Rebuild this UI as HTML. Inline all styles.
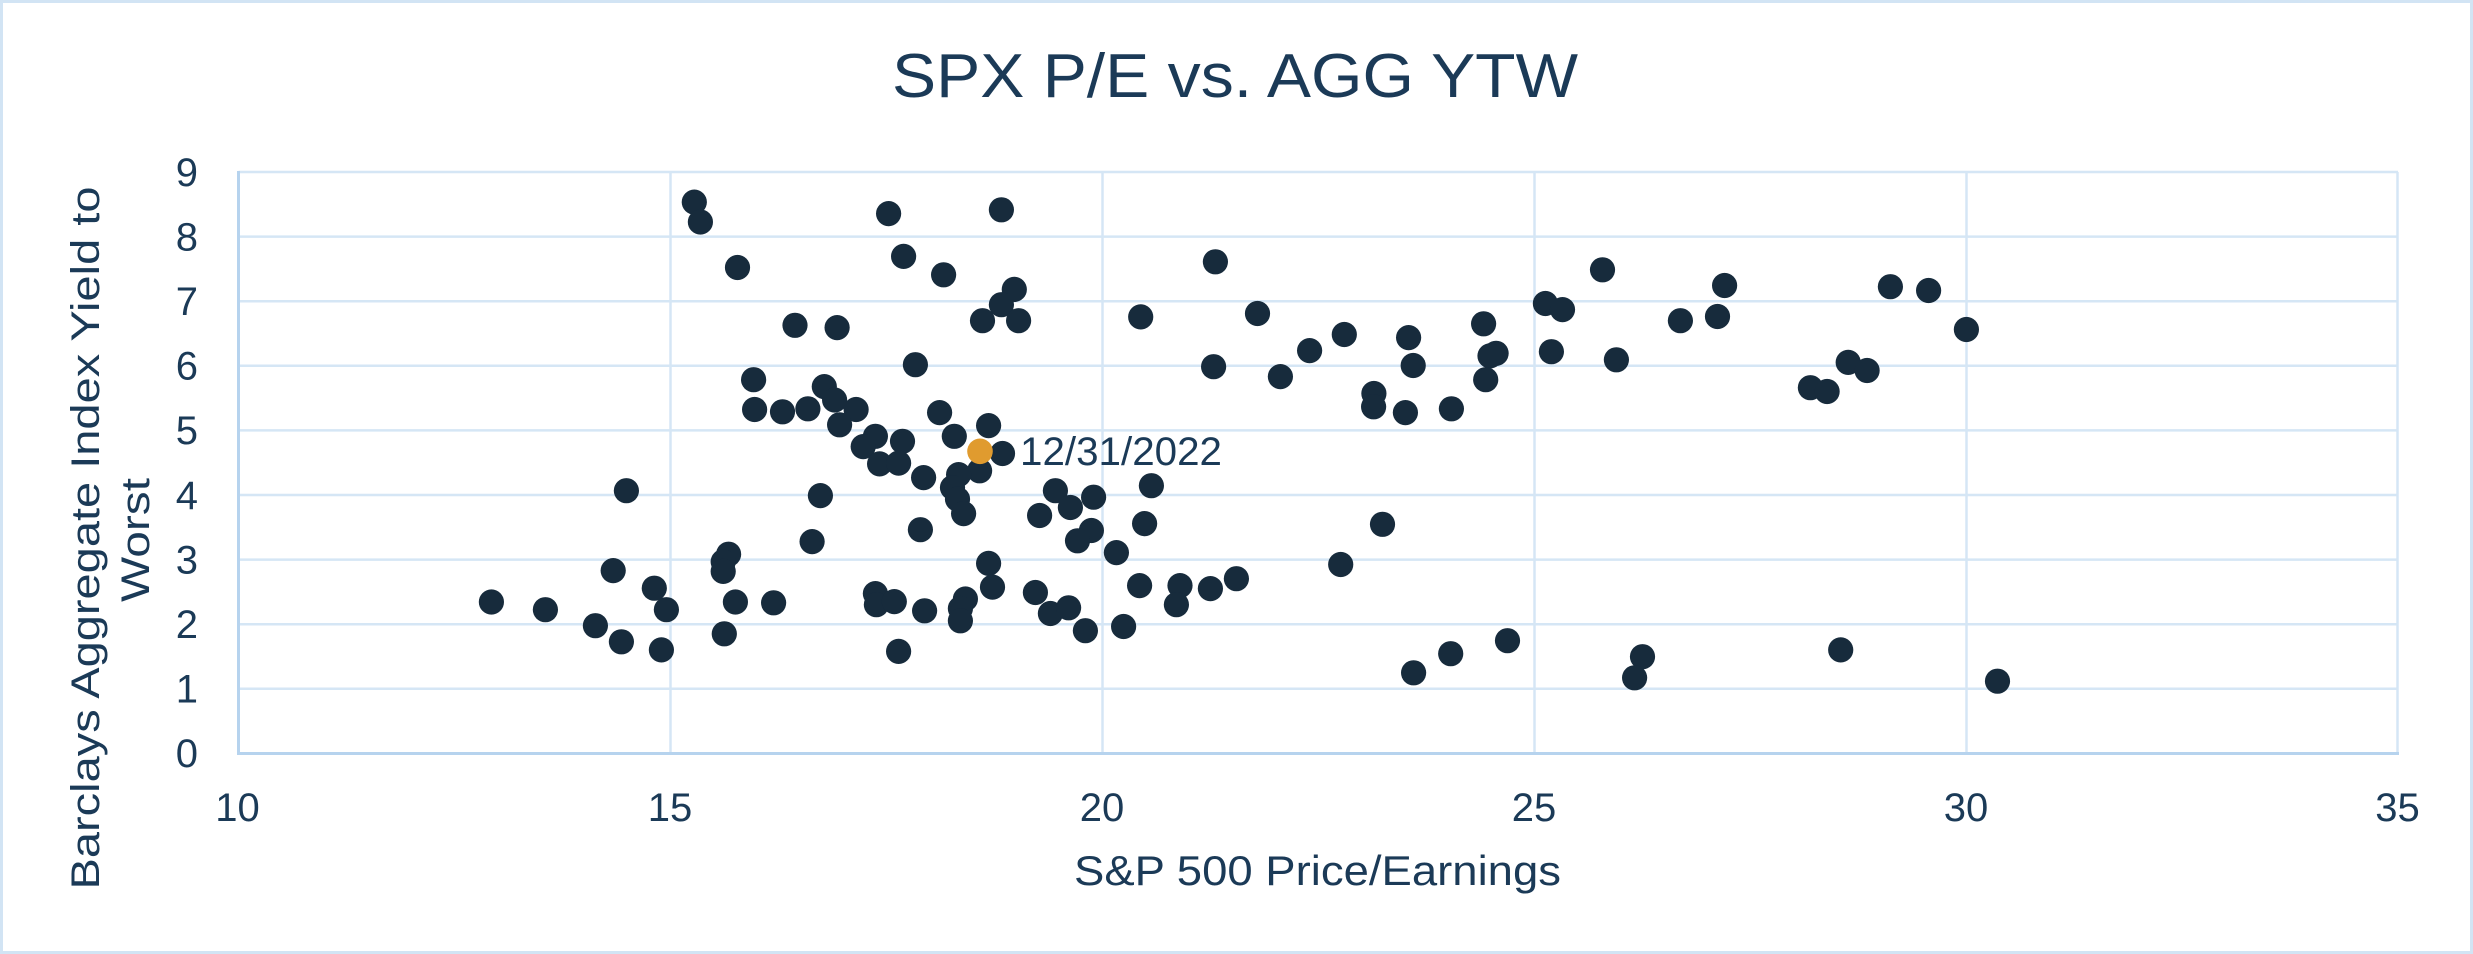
<!DOCTYPE html>
<html>
<head>
<meta charset="utf-8">
<style>
html,body{margin:0;padding:0;background:#fff;}
body{width:2473px;height:954px;overflow:hidden;}
svg{display:block;}
text{font-family:"Liberation Sans",Arial,sans-serif;fill:#1b3a57;}
</style>
</head>
<body>
<svg width="2473" height="954" viewBox="0 0 2473 954" xmlns="http://www.w3.org/2000/svg">
<rect x="0" y="0" width="2473" height="954" fill="#ffffff"/>
<rect x="1.5" y="1.5" width="2470" height="951" fill="none" stroke="#d2e4f4" stroke-width="3"/>

<text x="1235" y="97" font-size="62" text-anchor="middle" textLength="686" lengthAdjust="spacingAndGlyphs">SPX P/E vs. AGG YTW</text>

<g stroke="#d5e6f5" stroke-width="2.5">
<line x1="238.5" y1="172" x2="2398" y2="172"/>
<line x1="238.5" y1="236.6" x2="2398" y2="236.6"/>
<line x1="238.5" y1="301.2" x2="2398" y2="301.2"/>
<line x1="238.5" y1="365.8" x2="2398" y2="365.8"/>
<line x1="238.5" y1="430.4" x2="2398" y2="430.4"/>
<line x1="238.5" y1="495" x2="2398" y2="495"/>
<line x1="238.5" y1="559.6" x2="2398" y2="559.6"/>
<line x1="238.5" y1="624.2" x2="2398" y2="624.2"/>
<line x1="238.5" y1="688.8" x2="2398" y2="688.8"/>
<line x1="670.5" y1="172" x2="670.5" y2="753.5"/>
<line x1="1102.5" y1="172" x2="1102.5" y2="753.5"/>
<line x1="1534.5" y1="172" x2="1534.5" y2="753.5"/>
<line x1="1966.5" y1="172" x2="1966.5" y2="753.5"/>
<line x1="2397.5" y1="172" x2="2397.5" y2="753.5"/>
</g>
<g stroke="#b6d3ee" stroke-width="3">
<line x1="238.5" y1="171" x2="238.5" y2="754.5"/>
<line x1="237" y1="753.5" x2="2399" y2="753.5"/>
</g>

<g font-size="40" text-anchor="end">
<text x="198" y="767">0</text>
<text x="198" y="702.6">1</text>
<text x="198" y="638">2</text>
<text x="198" y="573.4">3</text>
<text x="198" y="508.8">4</text>
<text x="198" y="444.2">5</text>
<text x="198" y="379.6">6</text>
<text x="198" y="315">7</text>
<text x="198" y="250.4">8</text>
<text x="198" y="185.8">9</text>
</g>
<g font-size="40" text-anchor="middle">
<text x="237.5" y="821">10</text>
<text x="670" y="821">15</text>
<text x="1102" y="821">20</text>
<text x="1534" y="821">25</text>
<text x="1966" y="821">30</text>
<text x="2397.5" y="821">35</text>
</g>

<text x="1317.5" y="885" font-size="42" text-anchor="middle" textLength="487" lengthAdjust="spacingAndGlyphs">S&amp;P 500 Price/Earnings</text>

<text transform="translate(99,538) rotate(-90)" font-size="40" text-anchor="middle" textLength="703" lengthAdjust="spacingAndGlyphs">Barclays Aggregate Index Yield to</text>
<text transform="translate(149,540) rotate(-90)" font-size="40" text-anchor="middle" textLength="124" lengthAdjust="spacingAndGlyphs">Worst</text>

<g fill="#172b3c">
<circle cx="694.3" cy="202.1" r="12.6"/>
<circle cx="700.4" cy="222.0" r="12.6"/>
<circle cx="737.5" cy="267.5" r="12.6"/>
<circle cx="753.6" cy="379.7" r="12.6"/>
<circle cx="754.6" cy="409.5" r="12.6"/>
<circle cx="782.5" cy="411.8" r="12.6"/>
<circle cx="626.4" cy="490.7" r="12.6"/>
<circle cx="728.6" cy="554.2" r="12.6"/>
<circle cx="723.2" cy="561.8" r="12.6"/>
<circle cx="723.2" cy="571.4" r="12.6"/>
<circle cx="613.2" cy="570.6" r="12.6"/>
<circle cx="654.3" cy="588.2" r="12.6"/>
<circle cx="491.4" cy="602.0" r="12.6"/>
<circle cx="545.4" cy="609.7" r="12.6"/>
<circle cx="666.4" cy="609.7" r="12.6"/>
<circle cx="735.4" cy="602.0" r="12.6"/>
<circle cx="773.6" cy="602.8" r="12.6"/>
<circle cx="595.4" cy="625.7" r="12.6"/>
<circle cx="621.4" cy="641.8" r="12.6"/>
<circle cx="661.4" cy="649.9" r="12.6"/>
<circle cx="724.3" cy="633.8" r="12.6"/>
<circle cx="888.6" cy="213.6" r="12.6"/>
<circle cx="1001.4" cy="209.8" r="12.6"/>
<circle cx="903.6" cy="256.4" r="12.6"/>
<circle cx="943.6" cy="274.8" r="12.6"/>
<circle cx="1014.3" cy="289.4" r="12.6"/>
<circle cx="1001.4" cy="304.7" r="12.6"/>
<circle cx="982.5" cy="320.7" r="12.6"/>
<circle cx="1018.6" cy="320.7" r="12.6"/>
<circle cx="795.0" cy="325.3" r="12.6"/>
<circle cx="837.1" cy="327.6" r="12.6"/>
<circle cx="1140.7" cy="316.9" r="12.6"/>
<circle cx="1215.4" cy="261.8" r="12.6"/>
<circle cx="1257.5" cy="313.5" r="12.6"/>
<circle cx="1309.6" cy="350.6" r="12.6"/>
<circle cx="1213.6" cy="366.7" r="12.6"/>
<circle cx="1280.4" cy="376.6" r="12.6"/>
<circle cx="915.4" cy="364.7" r="12.6"/>
<circle cx="824.3" cy="386.6" r="12.6"/>
<circle cx="834.6" cy="400.0" r="12.6"/>
<circle cx="807.9" cy="408.8" r="12.6"/>
<circle cx="856.1" cy="409.5" r="12.6"/>
<circle cx="839.6" cy="424.8" r="12.6"/>
<circle cx="939.6" cy="412.6" r="12.6"/>
<circle cx="988.6" cy="425.6" r="12.6"/>
<circle cx="875.4" cy="436.3" r="12.6"/>
<circle cx="863.2" cy="446.6" r="12.6"/>
<circle cx="902.5" cy="441.3" r="12.6"/>
<circle cx="954.3" cy="436.3" r="12.6"/>
<circle cx="879.6" cy="463.9" r="12.6"/>
<circle cx="898.6" cy="463.1" r="12.6"/>
<circle cx="1002.5" cy="453.5" r="12.6"/>
<circle cx="979.6" cy="470.8" r="12.6"/>
<circle cx="923.6" cy="477.6" r="12.6"/>
<circle cx="958.6" cy="474.6" r="12.6"/>
<circle cx="952.5" cy="487.6" r="12.6"/>
<circle cx="957.5" cy="499.1" r="12.6"/>
<circle cx="963.6" cy="513.6" r="12.6"/>
<circle cx="820.4" cy="495.6" r="12.6"/>
<circle cx="812.1" cy="541.6" r="12.6"/>
<circle cx="920.4" cy="529.7" r="12.6"/>
<circle cx="1055.4" cy="490.7" r="12.6"/>
<circle cx="1070.4" cy="507.5" r="12.6"/>
<circle cx="1093.6" cy="497.2" r="12.6"/>
<circle cx="1039.6" cy="515.5" r="12.6"/>
<circle cx="1151.4" cy="485.7" r="12.6"/>
<circle cx="1144.6" cy="523.6" r="12.6"/>
<circle cx="1091.4" cy="530.5" r="12.6"/>
<circle cx="1077.5" cy="540.8" r="12.6"/>
<circle cx="1116.4" cy="552.6" r="12.6"/>
<circle cx="988.6" cy="563.4" r="12.6"/>
<circle cx="992.5" cy="587.1" r="12.6"/>
<circle cx="875.4" cy="593.6" r="12.6"/>
<circle cx="876.4" cy="604.7" r="12.6"/>
<circle cx="894.3" cy="601.6" r="12.6"/>
<circle cx="924.6" cy="610.8" r="12.6"/>
<circle cx="965.4" cy="599.0" r="12.6"/>
<circle cx="960.4" cy="608.5" r="12.6"/>
<circle cx="960.4" cy="620.8" r="12.6"/>
<circle cx="1035.4" cy="592.5" r="12.6"/>
<circle cx="1050.4" cy="613.5" r="12.6"/>
<circle cx="1068.6" cy="607.8" r="12.6"/>
<circle cx="1085.4" cy="630.7" r="12.6"/>
<circle cx="1123.6" cy="626.5" r="12.6"/>
<circle cx="1139.6" cy="585.6" r="12.6"/>
<circle cx="1180.0" cy="585.6" r="12.6"/>
<circle cx="1176.4" cy="604.7" r="12.6"/>
<circle cx="1210.4" cy="588.6" r="12.6"/>
<circle cx="1236.4" cy="578.7" r="12.6"/>
<circle cx="898.6" cy="651.4" r="12.6"/>
<circle cx="1344.3" cy="334.5" r="12.6"/>
<circle cx="1408.6" cy="337.6" r="12.6"/>
<circle cx="1413.2" cy="365.5" r="12.6"/>
<circle cx="1373.9" cy="393.5" r="12.6"/>
<circle cx="1373.6" cy="406.8" r="12.6"/>
<circle cx="1405.4" cy="412.6" r="12.6"/>
<circle cx="1451.4" cy="408.8" r="12.6"/>
<circle cx="1483.6" cy="323.8" r="12.6"/>
<circle cx="1496.1" cy="353.3" r="12.6"/>
<circle cx="1490.0" cy="355.9" r="12.6"/>
<circle cx="1485.7" cy="379.7" r="12.6"/>
<circle cx="1545.4" cy="303.5" r="12.6"/>
<circle cx="1562.5" cy="309.6" r="12.6"/>
<circle cx="1551.4" cy="351.7" r="12.6"/>
<circle cx="1602.5" cy="269.8" r="12.6"/>
<circle cx="1616.4" cy="359.8" r="12.6"/>
<circle cx="1680.4" cy="320.7" r="12.6"/>
<circle cx="1717.5" cy="316.5" r="12.6"/>
<circle cx="1724.6" cy="285.5" r="12.6"/>
<circle cx="1810.4" cy="387.7" r="12.6"/>
<circle cx="1827.1" cy="391.5" r="12.6"/>
<circle cx="1848.2" cy="362.4" r="12.6"/>
<circle cx="1867.1" cy="370.5" r="12.6"/>
<circle cx="1382.5" cy="524.3" r="12.6"/>
<circle cx="1340.7" cy="564.5" r="12.6"/>
<circle cx="1413.6" cy="672.8" r="12.6"/>
<circle cx="1450.7" cy="653.7" r="12.6"/>
<circle cx="1507.5" cy="640.7" r="12.6"/>
<circle cx="1642.5" cy="656.7" r="12.6"/>
<circle cx="1634.6" cy="677.8" r="12.6"/>
<circle cx="1840.7" cy="649.9" r="12.6"/>
<circle cx="1890.4" cy="286.7" r="12.6"/>
<circle cx="1928.6" cy="290.5" r="12.6"/>
<circle cx="1966.4" cy="329.5" r="12.6"/>
<circle cx="1997.5" cy="681.2" r="12.6"/>
</g>

<circle cx="980" cy="451.3" r="12.8" fill="#e09b2f"/>
<text x="1020" y="465" font-size="40" textLength="202" lengthAdjust="spacingAndGlyphs">12/31/2022</text>
</svg>
</body>
</html>
